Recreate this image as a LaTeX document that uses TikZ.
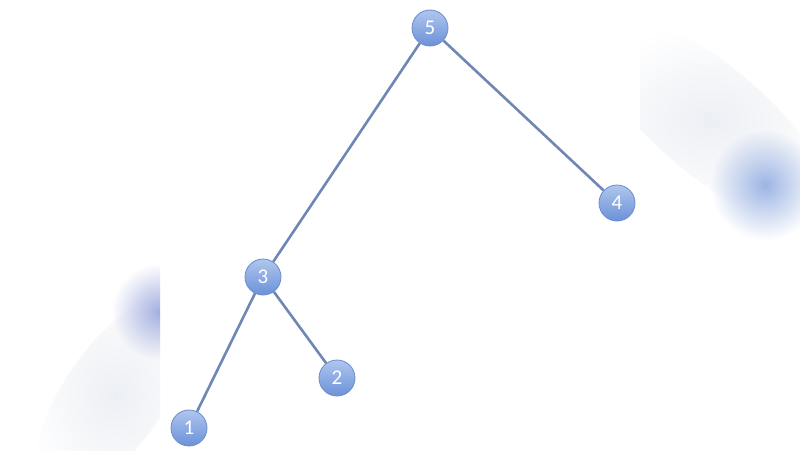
\documentclass[tikz,border=0pt]{standalone}
\usepackage{fontspec}
\setmainfont{Carlito}
\usetikzlibrary{fadings}
\tikzfading[name=softfade, inner color=transparent!0, outer color=transparent!100]
\begin{document}
\begin{tikzpicture}[x=1pt,y=-1pt,
  treenode/.style={circle,draw=nodeedge,line width=0.8pt,minimum size=36pt,inner sep=0pt,
    top color=nodetop,bottom color=nodebot,text=white,font=\fontsize{21}{21}\selectfont},
  treeedge/.style={draw=edgecol,line width=2.6pt}]
\definecolor{nodetop}{HTML}{AFC6EE}
\definecolor{nodebot}{HTML}{6B91D8}
\definecolor{nodeedge}{HTML}{6A8CCB}
\definecolor{edgecol}{HTML}{6F87B4}
\definecolor{blob}{HTML}{9DB5E4}
\definecolor{blobl}{HTML}{A3AEE0}
\definecolor{haze}{HTML}{ECEFF4}
\useasboundingbox (0,0) rectangle (800,450);
\fill[white] (0,0) rectangle (800,450);
% blurred side panels
\begin{scope}
  \clip (640,0) rectangle (800,450);
  \begin{scope}[shift={(710,120)},rotate=-40]
    \shade[inner color=haze,outer color=white] (0,0) ellipse (150 and 55);
  \end{scope}
  \fill[blob,path fading=softfade] (765,185) circle (55);
\end{scope}
\begin{scope}
  \clip (0,0) rectangle (160,450);
  \begin{scope}[shift={(115,395)},rotate=55]
    \shade[inner color=haze,outer color=white] (0,0) ellipse (120 and 50);
  \end{scope}
  \fill[blobl,path fading=softfade] (160,312) circle (48);
\end{scope}
% tree
\node[treenode] (n5) at (430,28) {5};
\node[treenode] (n4) at (617,203) {4};
\node[treenode] (n3) at (263,277) {3};
\node[treenode] (n2) at (337,378) {2};
\node[treenode] (n1) at (189,428) {1};
\path[treeedge] (n5) -- (n3);
\path[treeedge] (n5) -- (n4);
\path[treeedge] (n3) -- (n1);
\path[treeedge] (n3) -- (n2);
\end{tikzpicture}
\end{document}
